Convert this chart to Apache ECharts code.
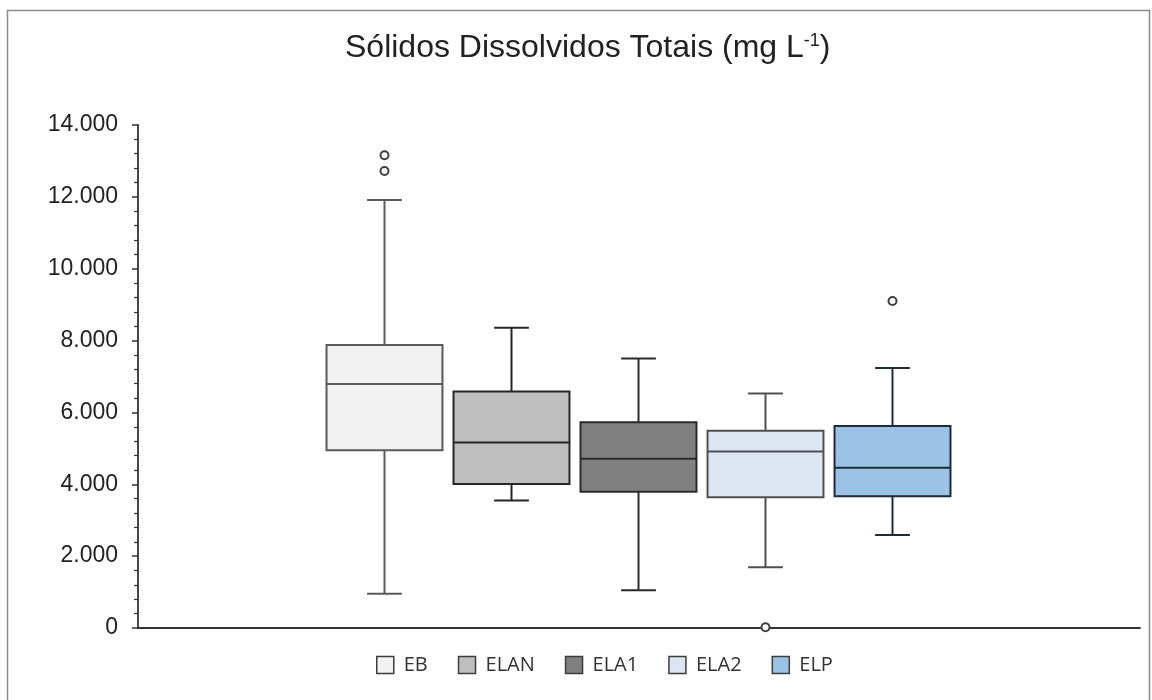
<!DOCTYPE html>
<html>
<head>
<meta charset="utf-8">
<script src="https://cdn.jsdelivr.net/npm/echarts@6/dist/echarts.min.js"></script>
<style>html,body{margin:0;padding:0;background:#fff}#c{width:1152px;height:700px}</style>
</head>
<body>
<div id="c"></div>
<script>
// ---- data ----
const groups = ['EB', 'ELAN', 'ELA1', 'ELA2', 'ELP'];
// [min, Q1, median, Q3, max]
const statsEB   = [950, 4950, 6790, 7880, 11910];
const statsELAN = [3550, 4010, 5160, 6580, 8360];
const statsELA1 = [1050, 3790, 4710, 5730, 7500];
const statsELA2 = [1690, 3640, 4910, 5490, 6530];
const statsELP  = [2590, 3670, 4460, 5620, 7240];
const outliersEB   = [12720, 13160];
const outliersELAN = [];
const outliersELA1 = [];
const outliersELA2 = [20];
const outliersELP  = [9100];
const yTicks = [0, 2000, 4000, 6000, 8000, 10000, 12000, 14000];

const allStats = [statsEB, statsELAN, statsELA1, statsELA2, statsELP];
const allOutliers = [outliersEB, outliersELAN, outliersELA1, outliersELA2, outliersELP];

// ---- styles ----
const fills   = ['#f2f2f2', '#bfbfbf', '#808080', '#dce6f3', '#9cc2e5'];
const strokes = ['#5a5a5a', '#262626', '#2b2b2b', '#505050', '#1d2b3a'];
const BOX_RATIO = 0.913;
const CAP_RATIO = 0.30;

function fmt(v) { return String(v).replace(/\B(?=(\d{3})+(?!\d))/g, '.'); }

function makeRender(i) {
  return function (params, api) {
    const xi = api.value(0);
    const pMin = api.coord([xi, api.value(1)]);
    const pQ1 = api.coord([xi, api.value(2)]);
    const pMed = api.coord([xi, api.value(3)]);
    const pQ3 = api.coord([xi, api.value(4)]);
    const pMax = api.coord([xi, api.value(5)]);
    const band = api.size([1, 0])[0];
    const bw = band * BOX_RATIO, cw = bw * CAP_RATIO;
    const cx = pMed[0];
    const ls = { stroke: strokes[i], lineWidth: 2, fill: null };
    return {
      type: 'group',
      children: [
        { type: 'line', shape: { x1: cx, y1: pMax[1], x2: cx, y2: pQ3[1] }, style: ls },
        { type: 'line', shape: { x1: cx, y1: pQ1[1], x2: cx, y2: pMin[1] }, style: ls },
        { type: 'line', shape: { x1: cx - cw / 2, y1: pMax[1], x2: cx + cw / 2, y2: pMax[1] }, style: ls },
        { type: 'line', shape: { x1: cx - cw / 2, y1: pMin[1], x2: cx + cw / 2, y2: pMin[1] }, style: ls },
        { type: 'rect', shape: { x: cx - bw / 2, y: pQ3[1], width: bw, height: pQ1[1] - pQ3[1] },
          style: { fill: fills[i], stroke: strokes[i], lineWidth: 2 } },
        { type: 'line', shape: { x1: cx - bw / 2, y1: pMed[1], x2: cx + bw / 2, y2: pMed[1] }, style: ls }
      ]
    };
  };
}

const series = groups.map(function (g, i) {
  return {
    name: g, type: 'custom', xAxisIndex: 1, yAxisIndex: 1,
    itemStyle: { color: fills[i], borderColor: strokes[i] },
    renderItem: makeRender(i),
    encode: { x: 0, y: [1, 2, 3, 4, 5] },
    data: [[i].concat(allStats[i])],
    z: 2
  };
});
const outlierData = [];
allOutliers.forEach(function (arr, i) { arr.forEach(function (v) { outlierData.push([i, v]); }); });
series.push({
  name: 'outliers', type: 'scatter', xAxisIndex: 1, yAxisIndex: 1,
  symbol: 'circle', symbolSize: 8,
  itemStyle: { color: '#ffffff', borderColor: '#404040', borderWidth: 2, opacity: 1 },
  data: outlierData, z: 3
});

const chart = echarts.init(document.getElementById('c'), null, { renderer: 'canvas' });
chart.setOption({
  backgroundColor: '#ffffff',
  animation: false,
  title: {
    text: 'Sólidos Dissolvidos Totais (mg L{sup|-1})',
    left: 340, top: 27,
    textStyle: {
      fontFamily: 'Liberation Sans', fontSize: 32, fontWeight: 'normal', color: '#222',
      rich: { sup: { fontFamily: 'Liberation Sans', fontSize: 18, color: '#222', verticalAlign: 'top', lineHeight: 32 } }
    }
  },
  legend: {
    left: 371, top: 650,
    icon: 'rect', itemWidth: 17, itemHeight: 17, itemGap: 30,
    textStyle: { fontFamily: 'Open Sans', fontSize: 20, color: '#333', padding: [0, 0, 0, 5] },
    data: groups.map(function (g, i) {
      return { name: g, itemStyle: { color: fills[i], borderColor: '#3d3d3d', borderWidth: 1.5 } };
    })
  },
  graphic: [{
    type: 'rect', shape: { x: 7.5, y: 10.5, width: 1142, height: 700 },
    style: { fill: null, stroke: '#8c8c8c', lineWidth: 1.5 }, silent: true
  }],
  grid: [
    { left: 138, right: 12, top: 125, bottom: 72 },
    { left: 321, width: 635, top: 125, bottom: 72 }
  ],
  xAxis: [
    { type: 'category', gridIndex: 0, data: [''],
      axisLine: { show: true, lineStyle: { color: '#333', width: 1.8 } },
      axisTick: { show: false }, axisLabel: { show: false }, splitLine: { show: false } },
    { type: 'category', gridIndex: 1, data: groups, show: false }
  ],
  yAxis: [
    { type: 'value', gridIndex: 0, min: yTicks[0], max: yTicks[yTicks.length - 1], interval: 2000,
      axisLine: { show: true, lineStyle: { color: '#333', width: 1.8 } },
      axisTick: { show: true, inside: false, length: 6, lineStyle: { color: '#333', width: 1.5 } },
      minorTick: { show: true, splitNumber: 5, length: 4, lineStyle: { color: '#333', width: 1.2 } },
      splitLine: { show: false },
      axisLabel: { margin: 20, fontFamily: 'Liberation Sans', fontSize: 23, color: '#222', formatter: fmt } },
    { type: 'value', gridIndex: 1, min: yTicks[0], max: yTicks[yTicks.length - 1], show: false }
  ],
  series: series
});
</script>
</body>
</html>
